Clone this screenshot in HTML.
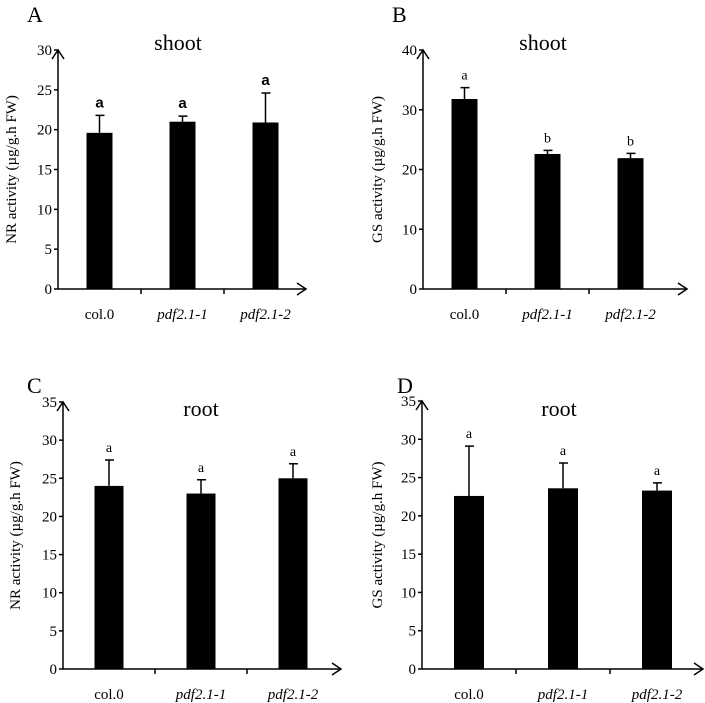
<!DOCTYPE html>
<html><head><meta charset="utf-8">
<style>
body{margin:0;background:#fff;}
svg{display:block;font-family:"Liberation Serif",serif;}
</style></head>
<body>
<svg id="fig" width="705" height="703" viewBox="0 0 705 703"></svg>
<script>
const categories = ["col.0","pdf2.1-1","pdf2.1-2"];
const nrShoot = [19.6, 21.0, 20.9];
const nrShootErr = [2.2, 0.7, 3.7];
const gsShoot = [31.8, 22.6, 21.9];
const gsShootErr = [1.9, 0.6, 0.8];
const nrRoot = [24.0, 23.0, 25.0];
const nrRootErr = [3.4, 1.8, 1.9];
const gsRoot = [22.6, 23.6, 23.3];
const gsRootErr = [6.5, 3.3, 1.0];
const lettersA = ["a","a","a"];
const lettersB = ["a","b","b"];
const lettersC = ["a","a","a"];
const lettersD = ["a","a","a"];
const ticksA = [0,5,10,15,20,25,30];
const ticksB = [0,10,20,30,40];
const ticksCD = [0,5,10,15,20,25,30,35];

const NS="http://www.w3.org/2000/svg";
const svg=document.getElementById('fig');
function mk(tag,attrs,parent,text){const e=document.createElementNS(NS,tag);for(const k in attrs)e.setAttribute(k,attrs[k]);if(text!==undefined)e.textContent=text;(parent||svg).appendChild(e);return e;}

function panel(cfg){
  const g=mk('g',{});
  
  
  const yMax=cfg.ticks[cfg.ticks.length-1];
  const y=v=>cfg.y0-(cfg.y0-cfg.yTop)*v/yMax;
  const L=mk('text',{x:cfg.letterX,y:cfg.letterY,'font-size':22},g,cfg.letter);
  
  
  const T=mk('text',{x:cfg.titleX,y:cfg.titleY,'font-size':22,'text-anchor':'middle'},g,cfg.title);
  
  
  const ya=mk('line',{x1:cfg.x0,y1:cfg.y0,x2:cfg.x0,y2:cfg.yTop,stroke:'#000','stroke-width':1.5},g);
  
  
  mk('polyline',{points:`${cfg.x0-6},${cfg.yTop+9} ${cfg.x0},${cfg.yTop} ${cfg.x0+6},${cfg.yTop+9}`,fill:'none',stroke:'#000','stroke-width':1.5},g);
  cfg.ticks.forEach(t=>{
    mk('line',{x1:cfg.x0-4,y1:y(t),x2:cfg.x0,y2:y(t),stroke:'#000','stroke-width':1.5},g);
    const tl=mk('text',{x:cfg.x0-6,y:y(t)+5,'font-size':15,'text-anchor':'end'},g,t);
    
    
  });
  const yt=mk('text',{x:0,y:0,'font-size':15,'text-anchor':'middle',transform:`translate(${cfg.ytX},${(cfg.y0+cfg.yTop)/2}) rotate(-90)`},g,cfg.yTitle);
  
  
  const xa=mk('line',{x1:cfg.x0,y1:cfg.y0,x2:cfg.xEnd,y2:cfg.y0,stroke:'#000','stroke-width':1.5},g);
  
  
  mk('polyline',{points:`${cfg.xEnd-9},${cfg.y0-6} ${cfg.xEnd},${cfg.y0} ${cfg.xEnd-9},${cfg.y0+6}`,fill:'none',stroke:'#000','stroke-width':1.5},g);
  const n=categories.length;
  const band=cfg.band;
  for(let i=1;i<n;i++){mk('line',{x1:cfg.x0+band*i,y1:cfg.y0,x2:cfg.x0+band*i,y2:cfg.y0+5,stroke:'#000','stroke-width':1.5},g);}
  categories.forEach((c,i)=>{
    const cx=cfg.x0+band*(i+0.5);
    const v=cfg.values[i],e=cfg.errs[i];
    const b=mk('rect',{x:cx-cfg.bw/2,y:y(v),width:cfg.bw,height:cfg.y0-y(v),fill:'#000'},g);
    
    
    const eb=mk('path',{d:`M${cx},${y(v)} V${y(v+e)} M${cx-4},${y(v+e)} H${cx+5}`,stroke:'#000','stroke-width':1.5,fill:'none'},g);
    
    
    const lt=mk('text',{x:cx,y:y(v+e)-8,'font-size':cfg.letterSans?15:14,'text-anchor':'middle','font-family':cfg.letterSans?'"Liberation Sans",sans-serif':'"Liberation Serif",serif','font-weight':cfg.letterSans?'bold':'normal'},g,cfg.sig[i]);
    
    
    const xl=mk('text',{x:cx,y:cfg.y0+30,'font-size':15,'text-anchor':'middle','font-style':i>0?'italic':'normal'},g,c);
    
    
  });
}
panel({name:'panel-a',letter:'A',letterX:27,letterY:22,title:'shoot',titleX:178,titleY:50,x0:58,y0:289,yTop:50,xEnd:306,band:83,ticks:ticksA,values:nrShoot,errs:nrShootErr,sig:lettersA,letterSans:true,bw:26,yTitle:'NR activity (µg/g.h FW)',ytX:16});
panel({name:'panel-b',letter:'B',letterX:392,letterY:22,title:'shoot',titleX:543,titleY:50,x0:423,y0:289,yTop:50,xEnd:687,band:83,ticks:ticksB,values:gsShoot,errs:gsShootErr,sig:lettersB,letterSans:false,bw:26,yTitle:'GS activity (µg/g.h FW)',ytX:382});
panel({name:'panel-c',letter:'C',letterX:27,letterY:393,title:'root',titleX:201,titleY:416,x0:63,y0:669,yTop:402,xEnd:341,band:92,ticks:ticksCD,values:nrRoot,errs:nrRootErr,sig:lettersC,letterSans:false,bw:29,yTitle:'NR activity (µg/g.h FW)',ytX:20});
panel({name:'panel-d',letter:'D',letterX:397,letterY:393,title:'root',titleX:559,titleY:416,x0:422,y0:669,yTop:401,xEnd:703,band:94,ticks:ticksCD,values:gsRoot,errs:gsRootErr,sig:lettersD,letterSans:false,bw:30,yTitle:'GS activity (µg/g.h FW)',ytX:382});
</script>
</body></html>
